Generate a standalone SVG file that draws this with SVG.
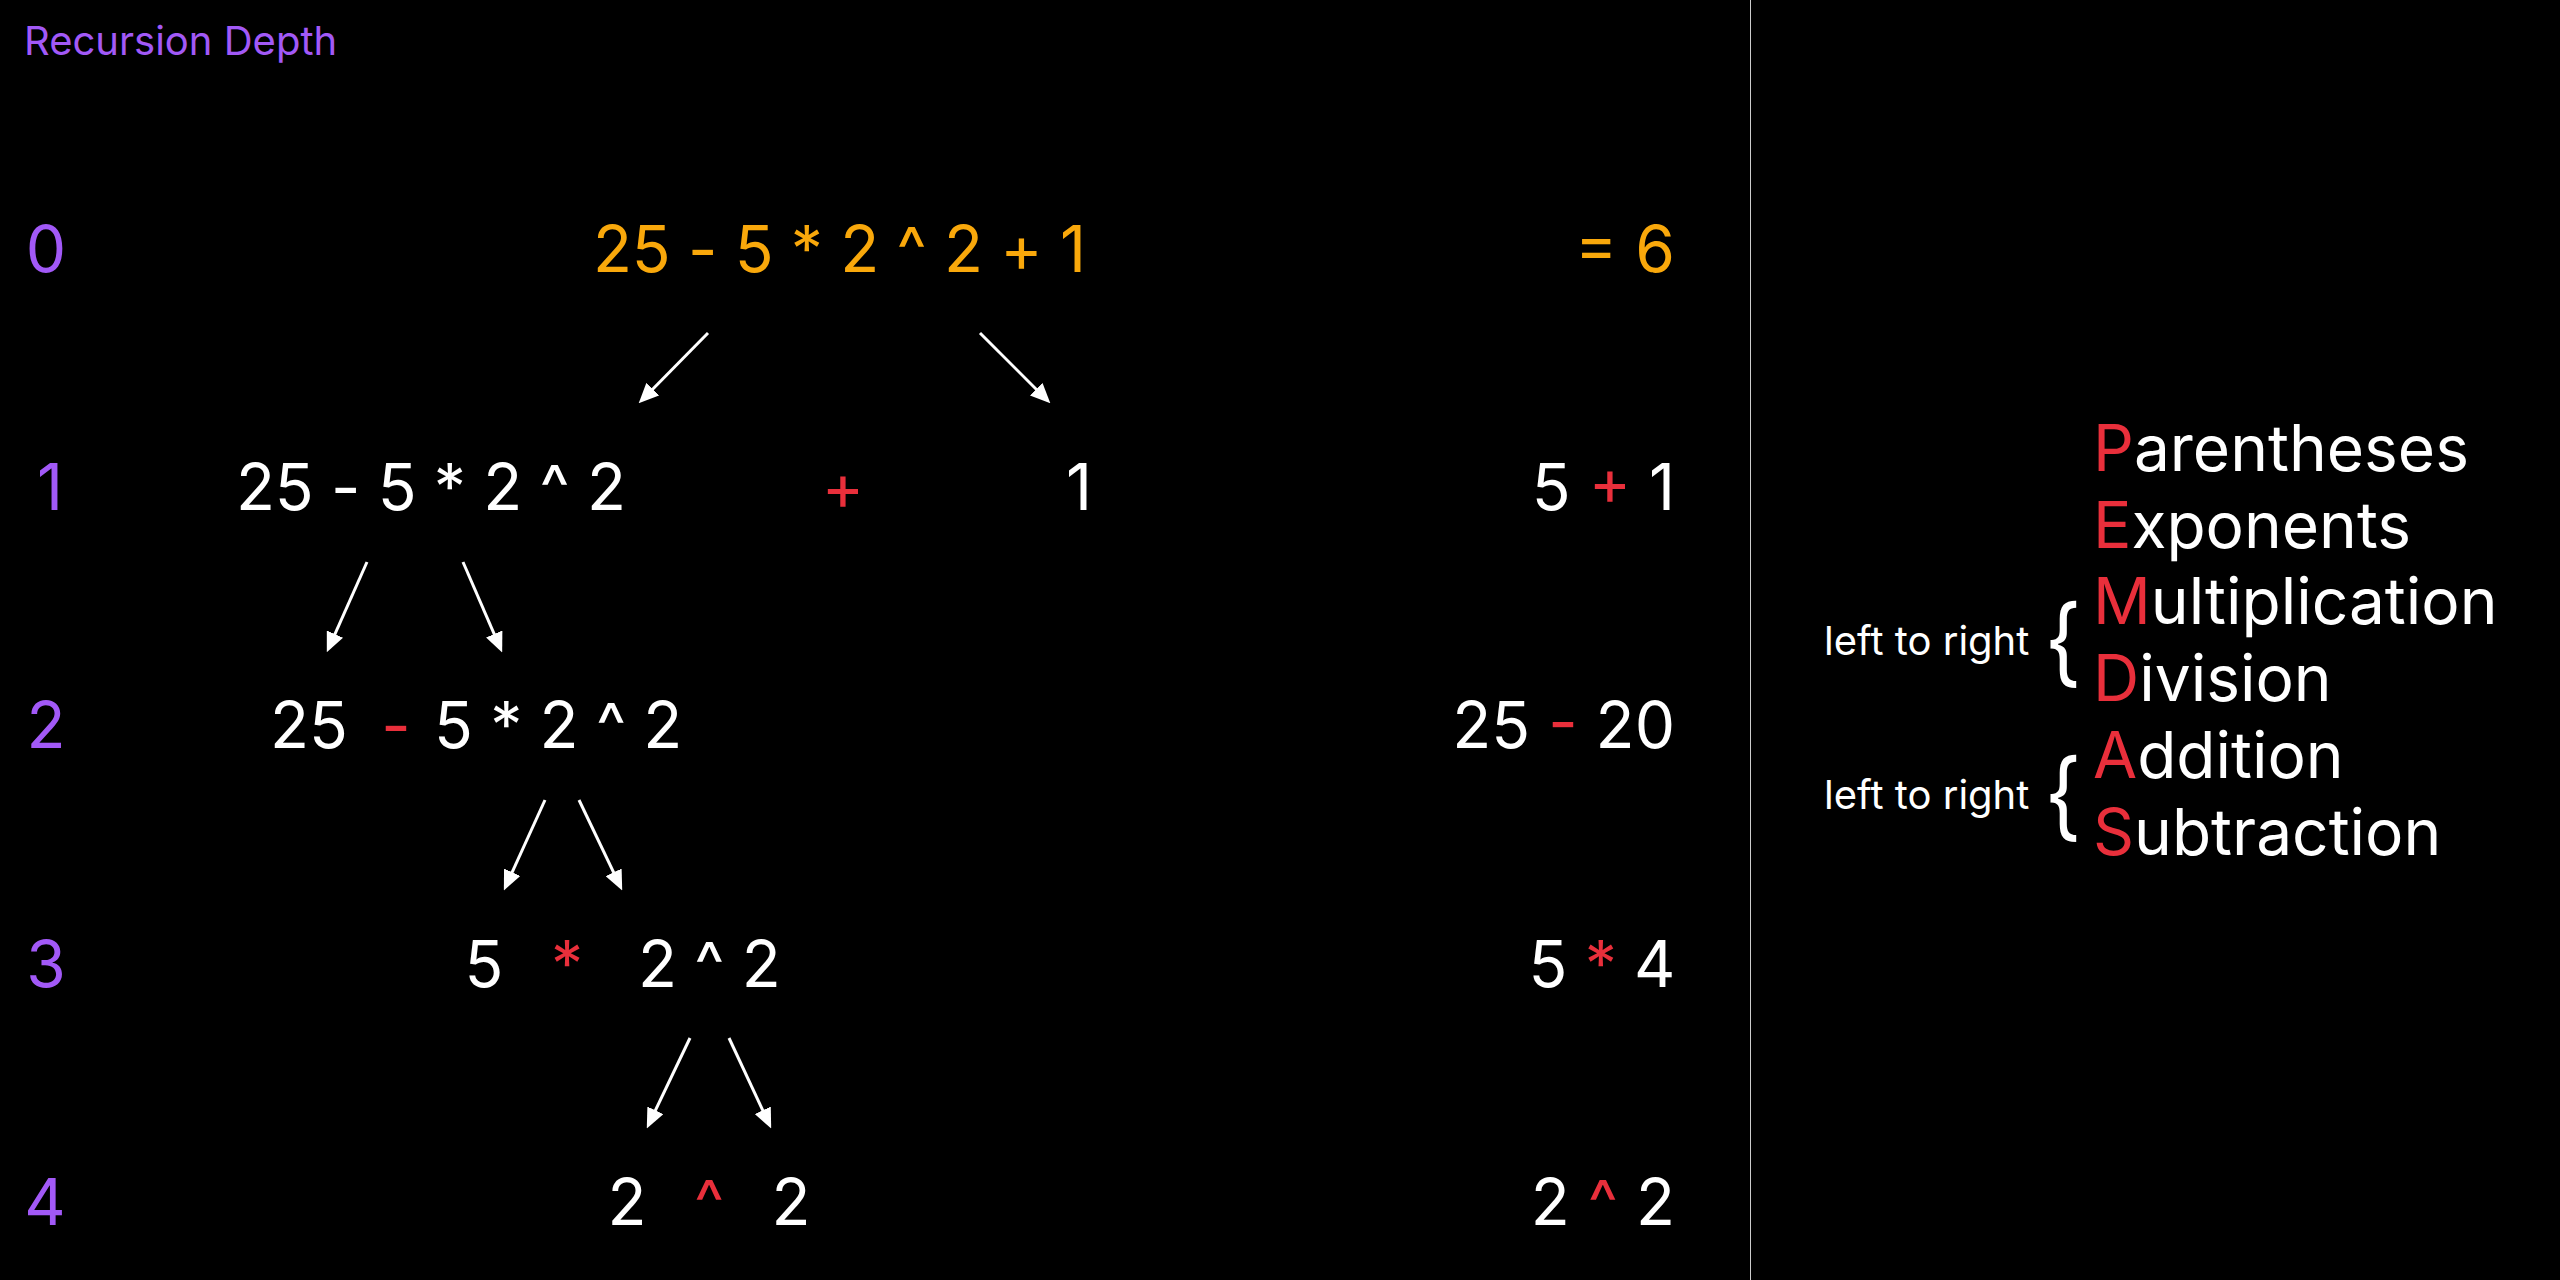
<svg xmlns="http://www.w3.org/2000/svg" width="2560" height="1280" viewBox="0 0 2560 1280">
<style>
text{font-family:Inter,"Noto Sans","Liberation Sans",sans-serif;}
.t{font-size:64px;fill:#ffffff;}
.d{font-size:64px;fill:#A259F7;text-anchor:middle;}
.o{fill:#F9A80B;}
.r{fill:#E92F3B;}
.e{text-anchor:end;}
.m{text-anchor:middle;}
.k{letter-spacing:-0.35px;}
.s{font-size:40px;fill:#ffffff;}
.b{font-size:96px;fill:#ffffff;}
.conn line{stroke:#ffffff;stroke-width:3;marker-end:url(#ah);}
</style>
<defs>
<marker id="ah" markerUnits="userSpaceOnUse" markerWidth="20" markerHeight="18" viewBox="0 0 18 16" refX="14" refY="8" orient="auto">
<path d="M0,0 L18,8 L0,16 Z" fill="#ffffff"/>
</marker>
</defs>
<rect x="0" y="0" width="2560" height="1280" fill="#000000"/>
<line x1="1750.5" y1="0" x2="1750.5" y2="1280" stroke="#cccccc" stroke-width="1"/>

<g id="title"><text x="24" y="55" font-size="40" fill="#A259F7">Recursion Depth</text></g>

<g id="depths">
<text class="d" x="46" y="272">0</text>
<text class="d" x="50" y="510">1</text>
<text class="d" x="46" y="748">2</text>
<text class="d" x="46" y="987">3</text>
<text class="d" x="45" y="1225">4</text>
</g>

<g id="node-d0"><text class="t o k" x="593" y="272">25 - 5 * 2 ^ 2 + 1</text></g>
<g id="result-d0"><text class="t o e" x="1675" y="272">= 6</text></g>

<g id="node-d1-left"><text class="t k" x="236" y="510">25 - 5 * 2 ^ 2</text></g>
<g id="op-d1"><text class="t r m" x="843" y="510">+</text></g>
<g id="node-d1-right"><text class="t m" x="1079" y="510">1</text></g>
<g id="result-d1"><text class="t e" x="1675" y="510">5 <tspan class="r">+</tspan> 1</text></g>

<g id="node-d2-left"><text class="t" x="270" y="748">25</text></g>
<g id="op-d2"><text class="t r m" x="396" y="748">-</text></g>
<g id="node-d2-right"><text class="t k" x="434" y="748">5 * 2 ^ 2</text></g>
<g id="result-d2"><text class="t e" x="1675" y="748">25 <tspan class="r">-</tspan> 20</text></g>

<g id="node-d3-left"><text class="t m" x="484" y="987">5</text></g>
<g id="op-d3"><text class="t r m" x="567" y="987">*</text></g>
<g id="node-d3-right"><text class="t k" x="638" y="987">2 ^ 2</text></g>
<g id="result-d3"><text class="t e k" x="1675" y="987">5 <tspan class="r">*</tspan> 4</text></g>

<g id="node-d4-left"><text class="t m" x="627" y="1225">2</text></g>
<g id="op-d4"><text class="t r m" x="709" y="1225">^</text></g>
<g id="node-d4-right"><text class="t m" x="791" y="1225">2</text></g>
<g id="result-d4"><text class="t e" x="1675" y="1225">2 <tspan class="r">^</tspan> 2</text></g>

<g class="conn" id="connectors">
<line x1="708" y1="333" x2="641.8" y2="400.2"/>
<line x1="980" y1="333" x2="1047.2" y2="400.2"/>
<line x1="367" y1="562" x2="328.6" y2="648.3"/>
<line x1="463" y1="562" x2="500.4" y2="648.3"/>
<line x1="545" y1="800" x2="505.7" y2="886.4"/>
<line x1="579" y1="800" x2="620.3" y2="886.4"/>
<line x1="690" y1="1038" x2="648.7" y2="1124.4"/>
<line x1="729" y1="1038" x2="769.3" y2="1124.4"/>
</g>

<g id="pemdas">
<text class="t" x="2093" y="471"><tspan class="r">P</tspan>arentheses</text>
<text class="t" x="2093" y="548"><tspan class="r">E</tspan>xponents</text>
<text class="t" x="2093" y="624"><tspan class="r">M</tspan>ultiplication</text>
<text class="t" x="2093" y="701"><tspan class="r">D</tspan>ivision</text>
<text class="t" x="2093" y="778"><tspan class="r">A</tspan>ddition</text>
<text class="t" x="2093" y="855"><tspan class="r">S</tspan>ubtraction</text>
</g>
<g id="note-md">
<text class="s" x="1824" y="655">left to right</text>
<text class="b" x="-6" y="0" transform="translate(2050,675) scale(0.9,1)">{</text>
</g>
<g id="note-as">
<text class="s" x="1824" y="809">left to right</text>
<text class="b" x="-6" y="0" transform="translate(2050,829) scale(0.9,1)">{</text>
</g>
</svg>
